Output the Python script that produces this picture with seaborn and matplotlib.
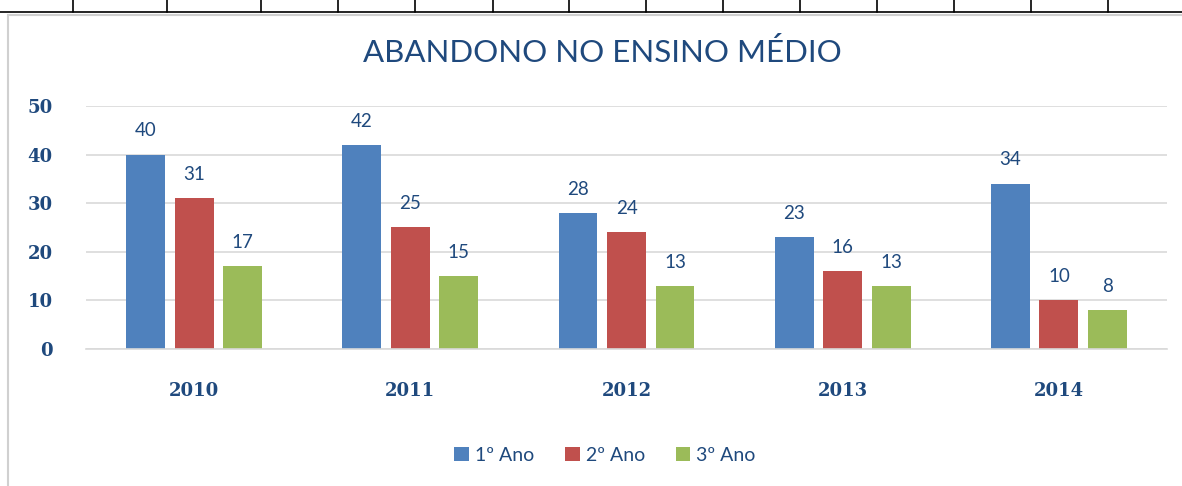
import pandas as pd
import seaborn as sns
import matplotlib.pyplot as plt
from matplotlib.lines import Line2D
from matplotlib.patches import Rectangle

# Data.
years = ["2010", "2011", "2012", "2013", "2014"]
series = ["1º Ano", "2º Ano", "3º Ano"]
ano1 = [40, 42, 28, 23, 34]
ano2 = [31, 25, 24, 16, 10]
ano3 = [17, 15, 13, 13, 8]
colors = ["#4F81BD", "#C0504D", "#9BBB59"]

TEXT = "#1F497D"
W, H = 1182, 486

df = pd.DataFrame({
    "ano": years * 3,
    "serie": [s for s in series for _ in years],
    "valor": ano1 + ano2 + ano3,
})

sns.set_style("white")
plt.rcParams["font.family"] = ["Lato", "DejaVu Sans"]

fig = plt.figure(figsize=(W / 100, H / 100), dpi=100)
ax = fig.add_axes([86 / W, 1 - 349 / H, (1167 - 86) / W, (349 - 106) / H])

sns.barplot(data=df, x="ano", y="valor", hue="serie", order=years, hue_order=series,
            palette=colors, width=0.673, gap=0.2, saturation=1, linewidth=0,
            ax=ax, legend=True)

# Value labels above bars
for container in ax.containers:
    ax.bar_label(container, padding=11, color=TEXT, fontsize=13.5)

ax.set_ylim(0, 50)
ax.set_xlim(-0.5, 4.5)
ax.set_yticks(range(0, 51, 10))
ax.yaxis.grid(True, color="#D9D9D9", linewidth=1.2)
ax.set_axisbelow(True)
for side in ["top", "right", "left"]:
    ax.spines[side].set_visible(False)
ax.spines["bottom"].set_color("#D9D9D9")
ax.spines["bottom"].set_linewidth(1.2)
ax.tick_params(axis="both", length=0, labelcolor=TEXT)
ax.tick_params(axis="y", pad=24)
ax.tick_params(axis="x", pad=24)
for lbl in ax.get_xticklabels() + ax.get_yticklabels():
    lbl.set_family(["DejaVu Serif"])
    lbl.set_fontweight("bold")
    lbl.set_fontsize(13)
ax.set_xlabel("")
ax.set_ylabel("")

handles, labels = ax.get_legend_handles_labels()
ax.legend(handles, labels, loc="center", bbox_to_anchor=(605 / W, 1 - 455 / H),
          bbox_transform=fig.transFigure, ncol=3, frameon=False, fontsize=14,
          labelcolor=TEXT, handlelength=0.75, handleheight=0.75, handletextpad=0.3,
          columnspacing=1.6)

fig.text(602 / W, 1 - 52 / H, "ABANDONO NO ENSINO MÉDIO", ha="center", va="center",
         color=TEXT, fontsize=22.5)

# Spreadsheet cell grid behind the chart object
fig.add_artist(Line2D([0, 1], [1 - 12.5 / H] * 2, color="black", linewidth=1.2))
for gx in [73, 167, 261, 338, 415, 493, 569, 646, 723, 800, 877, 954, 1031, 1108]:
    fig.add_artist(Line2D([gx / W] * 2, [1 - 12.5 / H, 1], color="black", linewidth=1.2))
fig.add_artist(Rectangle((8 / W, -0.1), 1.2, 1 - 15 / H + 0.1, transform=fig.transFigure,
                         fill=False, edgecolor="#D0D0D0", linewidth=1.5))

fig.savefig("out.png", dpi=100)
